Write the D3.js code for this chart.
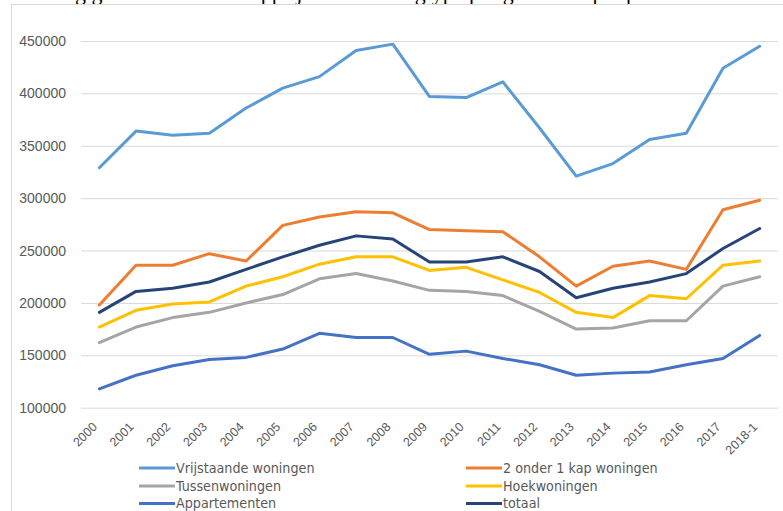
<!DOCTYPE html>
<html>
<head>
<meta charset="utf-8">
<script src="https://cdn.jsdelivr.net/npm/d3@7/dist/d3.min.js"></script>
<style>
  html, body { margin: 0; padding: 0; background: #ffffff; overflow: hidden; }
  svg { display: block; }
</style>
</head>
<body>
<svg id="chart" width="783" height="511"></svg>
<script>
// ---- data ----
const categories = ["2000","2001","2002","2003","2004","2005","2006","2007","2008","2009",
                    "2010","2011","2012","2013","2014","2015","2016","2017","2018-1"];
const yTicks = [100000,150000,200000,250000,300000,350000,400000,450000];

const seriesNames = ["Vrijstaande woningen","2 onder 1 kap woningen","Tussenwoningen",
                     "Hoekwoningen","Appartementen","totaal"];
const vrijstaande   = [329000,364000,360000,362000,386000,405000,416000,441000,447000,397000,
                       396000,411000,367000,321000,333000,356000,362000,424000,445000];
const tweeOnder1Kap = [198000,236000,236000,247000,240000,274000,282000,287000,286000,270000,
                       269000,268000,244000,216000,235000,240000,232000,289000,298000];
const tussen        = [162000,177000,186000,191000,200000,208000,223000,228000,221000,212000,
                       211000,207000,192000,175000,176000,183000,183000,216000,225000];
const hoek          = [177000,193000,199000,201000,216000,225000,237000,244000,244000,231000,
                       234000,222000,210000,191000,186000,207000,204000,236000,240000];
const appartementen = [118000,131000,140000,146000,148000,156000,171000,167000,167000,151000,
                       154000,147000,141000,131000,133000,134000,141000,147000,169000];
const totaal        = [191000,211000,214000,220000,232000,244000,255000,264000,261000,239000,
                       239000,244000,230000,205000,214000,220000,228000,252000,271000];
const colors = ["#5B9BD5","#ED7D31","#A5A5A5","#FFC000","#4472C4","#264478"];
const titleText = "Ontwikkeling gemiddelde verkoopprijs naar woningtype per gemeente per provincie";

const seriesValues = [vrijstaande, tweeOnder1Kap, tussen, hoek, appartementen, totaal];

// ---- drawing ----
const svg = d3.select("#chart");

// clipped title (only descenders visible, as in the reference)
svg.append("text")
  .attr("x", -35).attr("y", 0)
  .attr("font-family", "Liberation Serif, Times New Roman, serif")
  .attr("font-size", 22)
  .attr("fill", "#000")
  .text(titleText);

// chart area border
svg.append("rect")
  .attr("x", 11.5).attr("y", 4.5)
  .attr("width", 800).attr("height", 540)
  .attr("fill", "none").attr("stroke", "#d9d9d9").attr("stroke-width", 1);

const x = d3.scalePoint().domain(categories).range([81, 778]).padding(0.5);
const y = d3.scaleLinear().domain([100000, 450000]).range([407.7, 41]);

// y axis with gridlines
const yAxis = d3.axisLeft(y).tickValues(yTicks).tickSize(-(778 - 81)).tickPadding(15)
  .tickFormat(d3.format("d"));
const gy = svg.append("g").attr("transform", "translate(81,0)").call(yAxis);
gy.select(".domain").remove();
gy.selectAll(".tick line").attr("stroke", "#d9d9d9").attr("stroke-width", 1);
gy.selectAll(".tick text")
  .attr("font-family", "Liberation Sans, Arial, sans-serif")
  .attr("font-size", 14)
  .attr("fill", "#595959");

// x axis labels (rotated)
const xAxis = d3.axisBottom(x).tickSize(0).tickPadding(0);
const gx = svg.append("g").attr("transform", "translate(0,407.7)").call(xAxis);
gx.select(".domain").remove();
gx.selectAll(".tick text")
  .attr("font-family", "Liberation Sans, Arial, sans-serif")
  .attr("font-size", 12.5)
  .attr("fill", "#595959")
  .attr("text-anchor", "end")
  .attr("dy", null)
  .attr("y", null)
  .attr("transform", "translate(-2,20) rotate(-45)");

// lines
const line = d3.line()
  .x((d, i) => x(categories[i]))
  .y(d => y(d));

seriesValues.forEach((vals, k) => {
  svg.append("path")
    .datum(vals)
    .attr("d", line)
    .attr("fill", "none")
    .attr("stroke", colors[k])
    .attr("stroke-width", 3)
    .attr("stroke-linejoin", "round")
    .attr("stroke-linecap", "round");
});

// legend
const legendRows = [468, 486, 503.5];
const legendCols = [139, 466];
const lg = svg.append("g");
seriesNames.forEach((name, k) => {
  const cx = legendCols[k % 2];
  const cy = legendRows[Math.floor(k / 2)];
  lg.append("line")
    .attr("x1", cx).attr("x2", cx + 36)
    .attr("y1", cy).attr("y2", cy)
    .attr("stroke", colors[k]).attr("stroke-width", 3);
  lg.append("text")
    .attr("x", cx + 37).attr("y", cy)
    .attr("dy", "0.35em")
    .attr("font-family", "Liberation Sans Narrow, DejaVu Sans Condensed, sans-serif")
    .attr("font-size", 14.2)
    .attr("fill", "#595959")
    .text(name);
});
</script>
</body>
</html>
